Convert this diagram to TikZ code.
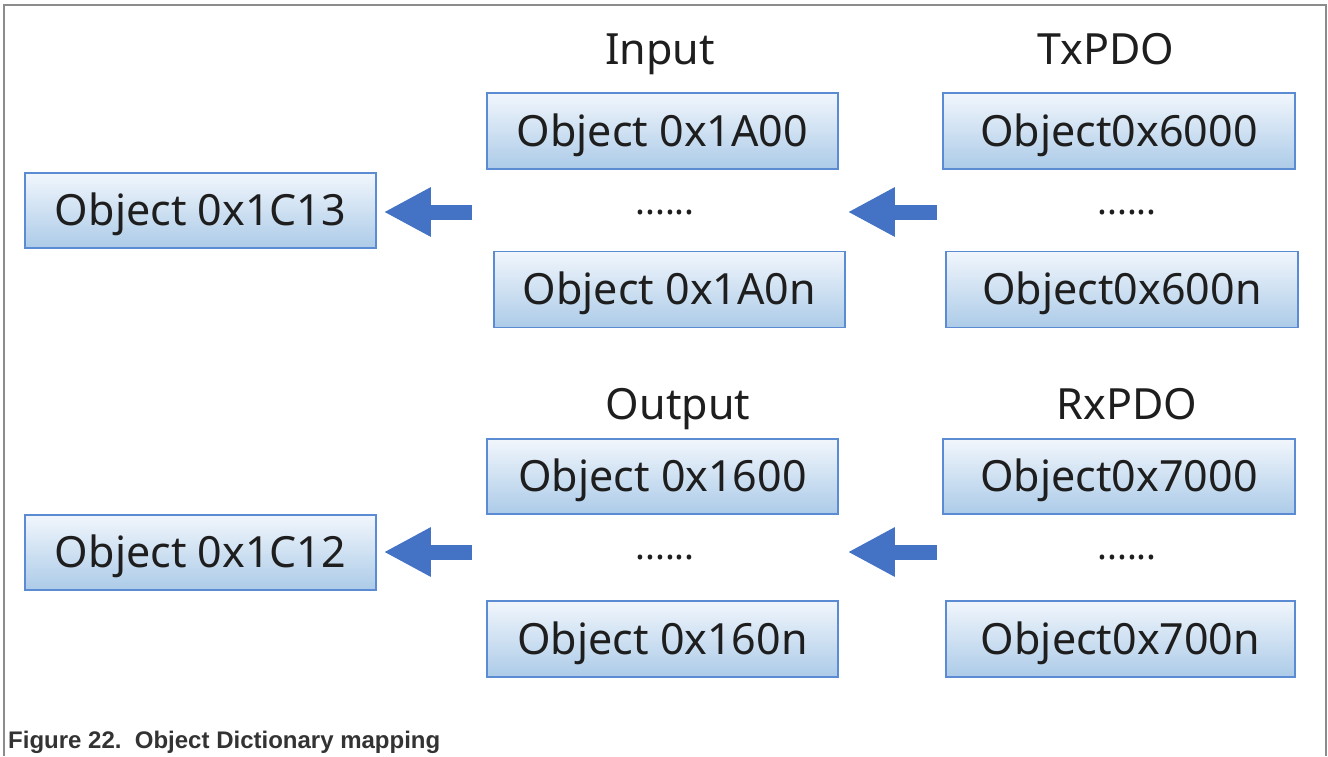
\documentclass[tikz,border=0pt]{standalone}
\usepackage{fontspec}
\setmainfont{Noto Sans}
\newfontfamily\capfont{Liberation Sans}
\usetikzlibrary{arrows.meta}
\definecolor{boxedge}{HTML}{5B8BD3}
\definecolor{boxtop}{HTML}{F1F6FC}
\definecolor{boxbot}{HTML}{ACCBE8}
\definecolor{arrowblue}{HTML}{4472C4}
\definecolor{ink}{HTML}{1E1E1E}
\definecolor{framegray}{HTML}{8C8C8C}
\definecolor{capgray}{HTML}{333333}
\tikzset{
  objbox/.style={draw=boxedge, line width=1.5pt, top color=boxtop, bottom color=boxbot,
    minimum width=351pt, minimum height=76pt, inner sep=0pt, text=ink,
    text height=30.5pt, text depth=0pt,
    font=\fontsize{43}{46}\selectfont},
  heading/.style={text=ink, inner sep=0pt, text height=30.5pt, text depth=0pt,
    font=\fontsize{43}{46}\selectfont},
  gap/.style={text=ink, inner sep=0pt, anchor=base, font=\fontsize{37}{40}\selectfont},
  bigarrow/.style={draw=arrowblue, line width=15pt,
    -{Triangle[length=47pt,width=46pt,fill=arrowblue]}}
}
\begin{document}
\begin{tikzpicture}[x=1pt,y=-1pt]
\useasboundingbox (0,0) rectangle (1328,756);
% outer frame
\draw[framegray, line width=1.5pt] (4,756) -- (4,5) -- (1326,5) -- (1326,756);

% ---- input / transmit side ----
\node[heading] (inlabel) at (660,49) {Input};
\node[heading] (txlabel) at (1106,49) {TxPDO};
\node[objbox] (in0) at (662.5,131) {Object 0x1A00};
\node[gap] (indots) at (665,214) {......};
\node[objbox] (inn) at (669.5,289.5) {Object 0x1A0n};
\node[objbox, minimum width=352pt] (tx0) at (1119,131) {Object0x6000};
\node[gap] (txdots) at (1127,214) {......};
\node[objbox, minimum width=352pt] (txn) at (1122,289.5) {Object0x600n};
\node[objbox, minimum height=75pt] (c13) at (200.5,210.5) {Object 0x1C13};

\coordinate (a1tail) at (472,212);
\coordinate (a2tail) at (937,212);
\draw[bigarrow] (a1tail) -- ([xshift=7pt]c13.east |- a1tail);
\draw[bigarrow] (a2tail) -- ([xshift=2pt]inn.east |- a2tail);

% ---- output / receive side ----
\node[heading] (outlabel) at (678,404) {Output};
\node[heading] (rxlabel) at (1127,404) {RxPDO};
\node[objbox, minimum height=75pt] (out0) at (662.5,476.5) {Object 0x1600};
\node[gap] (outdots) at (665,559) {......};
\node[objbox] (outn) at (662.5,639) {Object 0x160n};
\node[objbox, minimum width=352pt, minimum height=75pt] (rx0) at (1119,476.5) {Object0x7000};
\node[gap] (rxdots) at (1127,559) {......};
\node[objbox, minimum width=349pt] (rxn) at (1120.5,639) {Object0x700n};
\node[objbox, minimum height=75pt] (c12) at (200.5,552.5) {Object 0x1C12};

\coordinate (a3tail) at (472,552);
\coordinate (a4tail) at (937,552);
\draw[bigarrow] (a3tail) -- ([xshift=7pt]c12.east |- a3tail);
\draw[bigarrow] (a4tail) -- ([xshift=9pt]out0.east |- a4tail);

% caption
\node[anchor=base west, inner sep=0pt, text=capgray,
      font=\capfont\bfseries\fontsize{24}{26}\selectfont] (caption) at (8,748)
  {Figure 22.\ \ Object Dictionary mapping};
\end{tikzpicture}
\end{document}
